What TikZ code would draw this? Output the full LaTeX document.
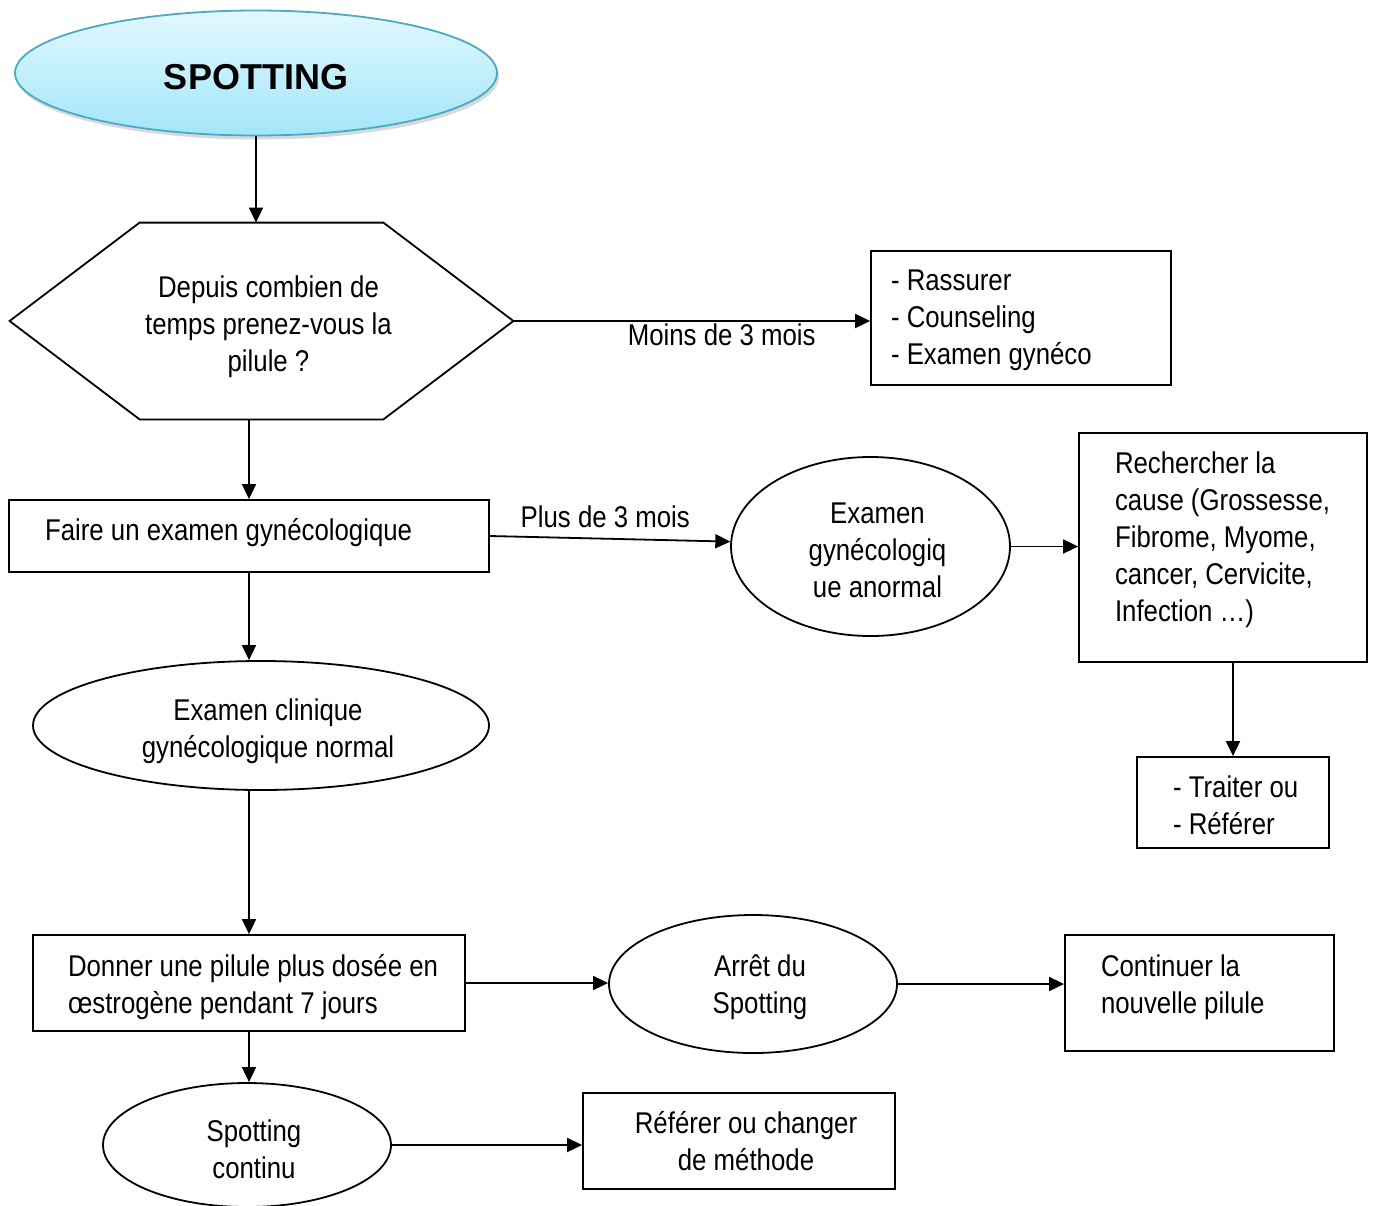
\documentclass[tikz,border=0pt]{standalone}
\usepackage{fontspec}
\setmainfont[FakeStretch=0.86]{Liberation Sans}
\newfontfamily\titlefont{Liberation Sans}
\usetikzlibrary{arrows.meta,shapes.geometric,shadows,calc}

\definecolor{spottop}{HTML}{E3F8FE}
\definecolor{spotbottom}{HTML}{A2E6FA}
\definecolor{spotedge}{HTML}{4BA9C6}

% left-aligned lines in a box of width #1, left padding #2, raised by #4
\newcommand\lftlines[4]{\raisebox{#4}[\height][\depth]{\makebox[#1][l]{%
  \begin{tabular}{@{\hspace{#2}}l@{}}#3\end{tabular}}}}
% centred lines, nudged right and moved by #1 vertically
\newcommand\ctrlines[2]{\raisebox{#1}[\height][\depth]{%
  \begin{tabular}{@{\hspace{7pt}}c@{}}#2\end{tabular}}}

\begin{document}
\begin{tikzpicture}[x=0.5pt,y=-0.5pt,
  every node/.style={font=\fontsize{15}{18.5}\selectfont},
  line/.style={line width=0.9pt},
  arr/.style={line, -{Triangle[length=7.5pt,width=7pt]}},
  box/.style={draw, line width=0.9pt, rectangle, inner sep=0pt},
  oval/.style={draw, line width=0.9pt, ellipse, inner sep=0pt},
]
\useasboundingbox (0,0) rectangle (1375,1205);

% start
\node[oval, draw=spotedge, top color=spottop, bottom color=spotbottom,
      drop shadow={shadow xshift=1pt, shadow yshift=-2pt, opacity=0.3},
      minimum width=241pt, minimum height=62.5pt,
      font=\titlefont\bfseries\fontsize{18}{22}\selectfont] (spot) at (256,73)
  {\raisebox{-2pt}[\height][\depth]{SPOTTING}};

% question (hexagon)
\node[inner sep=0pt, minimum width=251.5pt, minimum height=98pt]
  (hex) at (261.5,321) {\ctrlines{-3pt}{Depuis combien de\\temps prenez-vous la\\pilule ?}};
\draw[line] ($(hex.north west)+(130,0)$) -- ($(hex.north east)+(-130,0)$) -- (hex.east)
  -- ($(hex.south east)+(-130,0)$) -- ($(hex.south west)+(130,0)$) -- (hex.west) -- cycle;

\node[box, minimum height=67pt] (rass) at (1021,318)
  {\lftlines{150pt}{10pt}{- Rassurer\\- Counseling\\- Examen gynéco}{-1pt}};

\node[box, minimum height=36pt] (faire) at (249,536)
  {\lftlines{240pt}{18pt}{Faire un examen gynécologique}{1.5pt}};

\node[oval, minimum width=139.5pt, minimum height=89.5pt] (anorm) at (870.5,546.5)
  {\ctrlines{-3.5pt}{Examen\\gynécologiq\\ue anormal}};

\node[box, minimum height=114.5pt] (rech) at (1223,547.5)
  {\lftlines{144pt}{18pt}{Rechercher la\\cause (Grossesse,\\Fibrome, Myome,\\cancer, Cervicite,\\Infection …)}{3.5pt}};

\node[box, minimum height=45.5pt] (trait) at (1233,802.5)
  {\lftlines{96pt}{18pt}{- Traiter ou\\- Référer}{-3pt}};

\node[oval, minimum width=228pt, minimum height=64.5pt] (clin) at (261,725.5)
  {\ctrlines{-3pt}{Examen clinique\\gynécologique normal}};

\node[box, minimum height=48pt] (donner) at (249,983)
  {\lftlines{216pt}{17.5pt}{Donner une pilule plus dosée en\\œstrogène pendant 7 jours}{-2.5pt}};

\node[oval, minimum width=144pt, minimum height=69pt] (arret) at (753,984)
  {\ctrlines{-2pt}{Arrêt du\\Spotting}};

\node[box, minimum height=58pt] (contin) at (1199.5,993)
  {\lftlines{134.5pt}{18pt}{Continuer la\\nouvelle pilule}{2.5pt}};

\node[oval, minimum width=144pt, minimum height=62pt] (spotc) at (247,1145)
  {\ctrlines{-4pt}{Spotting\\continu}};

\node[box, minimum width=156pt, minimum height=48pt] (ref) at (739,1141)
  {\ctrlines{-2pt}{Référer ou changer\\de méthode}};

% connectors
\draw[arr] (spot.south) -- (spot.south |- hex.north);
\draw[arr] (hex.east) -- (hex.east -| rass.west)
  node[pos=0.584, anchor=north, inner sep=1pt] (lmoins) {Moins de 3 mois};
\draw[arr] (hex.south -| faire.north) -- (faire.north);
\draw[arr] (faire.east) -- (anorm.178)
  node[pos=0.48, anchor=south, inner sep=5pt] (lplus) {Plus de 3 mois};
\draw[arr] (anorm.east) -- (anorm.east -| rech.west);
\draw[arr] (trait.north |- rech.south) -- (trait.north);
\draw[arr] (faire.south) -- (faire.south |- clin.north);
\draw[arr] (donner.north |- clin.south) -- (donner.north);
\draw[arr] (donner.east) -- (donner.east -| arret.west);
\draw[arr] (arret.east) -- (arret.east -| contin.west);
\draw[arr] (donner.south) -- (donner.south |- spotc.north);
\draw[arr] (spotc.east) -- (spotc.east -| ref.west);
\end{tikzpicture}
\end{document}
